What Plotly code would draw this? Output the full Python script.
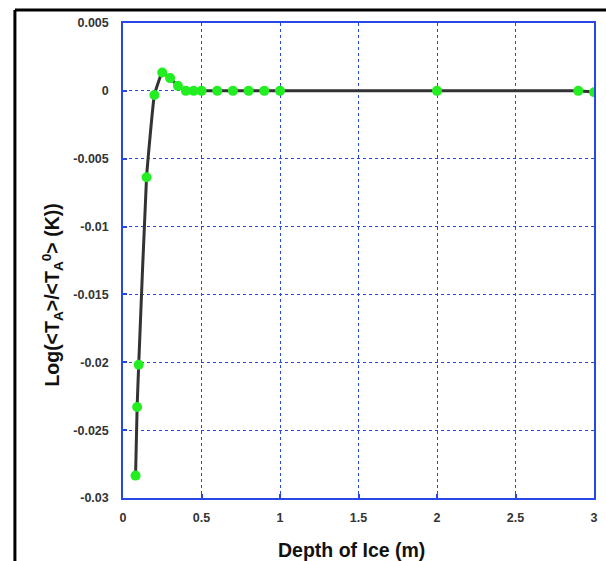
import plotly.graph_objects as go

depth = [0.08, 0.09, 0.10, 0.15, 0.20, 0.25, 0.30, 0.35, 0.40, 0.45, 0.50, 0.60, 0.70, 0.80, 0.90, 1.00, 2.00, 2.90, 3.00]
log_ratio = [-0.02835, -0.02329, -0.02018, -0.00636, -0.0003, 0.00135, 0.00094, 0.00037, 0.0, 0.0, 0.0, 0.0, 0.0, 0.0, 0.0, 0.0, 0.0, 0.0, -0.0001]

x_ticks = [0, 0.5, 1, 1.5, 2, 2.5, 3]
x_ticktext = ["0", "0.5", "1", "1.5", "2", "2.5", "3"]
y_ticks = [0.005, 0, -0.005, -0.01, -0.015, -0.02, -0.025, -0.03]
y_ticktext = ["0.005", "0", "-0.005", "-0.01", "-0.015", "-0.02", "-0.025", "-0.03"]
x_title = "Depth of Ice (m)"
y_title = "Log(&lt;T<sub>A</sub>&gt;/&lt;T<sub>A</sub><sup>0</sup>&gt; (K))"

blue = "#2747e6"
tickfont = dict(family="Liberation Sans, Arial", size=12.5, color="#333333")

fig = go.Figure()
fig.add_trace(go.Scatter(
    x=depth, y=log_ratio, mode="lines+markers",
    line=dict(color="#333333", width=3, shape="spline", smoothing=0.3),
    marker=dict(color="#22ee22", size=10, line=dict(width=0)),
    showlegend=False,
))

axis_common = dict(
    showline=True, mirror=True, linecolor=blue, linewidth=1.5,
    showgrid=True, gridcolor=blue, gridwidth=1, griddash="dot",
    zeroline=False, ticks="inside", ticklen=4, tickcolor=blue, tickwidth=1.5,
    tickfont=tickfont,
)

fig.update_xaxes(range=[0, 3], tickvals=x_ticks,
                 ticktext=["<b>%s</b>" % t for t in x_ticktext],
                 ticklabelstandoff=7, **axis_common)
fig.update_yaxes(range=[-0.03, 0.005], tickvals=y_ticks,
                 ticktext=["<b>%s</b>" % t for t in y_ticktext],
                 ticklabelstandoff=10, **axis_common)

FW, FH = 606, 561
L, T, W, H = 123, 23, 475, 475


def px(xp):
    return (xp - L) / W


def py(yp):
    return (T + H - yp) / H


fig.add_annotation(text="<b>%s</b>" % x_title, xref="paper", yref="paper",
                   x=px(353), y=py(550), xanchor="center", yanchor="middle",
                   showarrow=False,
                   font=dict(family="Liberation Sans, Arial", size=19.5, color="#111111"))
fig.add_annotation(text="<b>%s</b>" % y_title, xref="paper", yref="paper",
                   x=px(51), y=py(295), xanchor="center", yanchor="middle",
                   textangle=-90, showarrow=False,
                   font=dict(family="Liberation Sans, Arial", size=19.5, color="#111111"))

fx = px(14)
fy = py(10)
fig.add_shape(type="line", xref="paper", yref="paper",
              x0=fx, x1=px(FW + 5), y0=fy, y1=fy,
              line=dict(color="black", width=3))
fig.add_shape(type="line", xref="paper", yref="paper",
              x0=fx, x1=fx, y0=fy, y1=py(FH + 5),
              line=dict(color="black", width=3))

fig.update_layout(
    width=FW, height=FH,
    margin=dict(l=L, r=FW - L - W, t=T, b=FH - T - H),
    paper_bgcolor="white", plot_bgcolor="white",
    font=dict(family="Liberation Sans, Arial"),
)

fig.write_html(
    "out.html",
    config={"displayModeBar": False},
    post_script="document.body.style.margin='0';document.body.style.overflow='hidden';",
)
